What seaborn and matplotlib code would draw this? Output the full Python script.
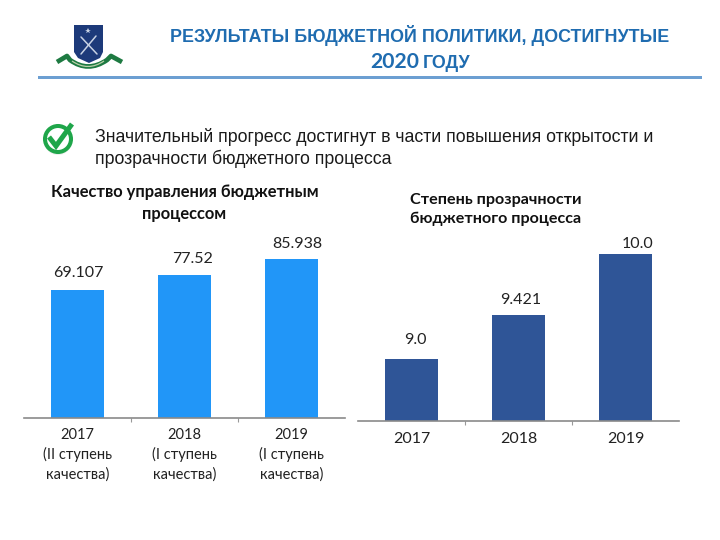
import matplotlib
matplotlib.use('Agg')
import matplotlib.pyplot as plt
import seaborn as sns
from matplotlib.patches import Circle, Rectangle, PathPatch
from matplotlib.path import Path

W, H = 720, 540

years = ['2017', '2018', '2019']
quality_labels = ['2017\n(II ступень\nкачества)', '2018\n(I ступень\nкачества)', '2019\n(I ступень\nкачества)']
quality_values = [69.107, 77.52, 85.938]
quality_text = ['69.107', '77.52', '85.938']
transparency_values = [9.0, 9.421, 10.0]
transparency_text = ['9.0', '9.421', '10.0']

title_line1 = 'РЕЗУЛЬТАТЫ БЮДЖЕТНОЙ ПОЛИТИКИ, ДОСТИГНУТЫЕ'
subtitle = 'Значительный прогресс достигнут в части повышения открытости и\nпрозрачности бюджетного процесса'
quality_title = 'Качество управления бюджетным\nпроцессом'
transparency_title = 'Степень прозрачности\nбюджетного процесса'

sns.set_theme(style='white')
plt.rcParams['font.family'] = ['Lato', 'Open Sans', 'DejaVu Sans']
plt.rcParams['savefig.dpi'] = 100


def px_axes(fig, left, top, right, bottom, **kw):
    # axes from pixel box, origin top left
    return fig.add_axes([left / W, 1 - bottom / H, (right - left) / W, (bottom - top) / H], **kw)


def style_bars(ax, labels, size, pad):
    ax.set_xlabel('')
    ax.set_ylabel('')
    ax.set_yticks([])
    ax.set_xlim(-0.5, 2.5)
    ax.set_xticks([0, 1, 2], labels)
    ax.set_xticks([0.5, 1.5], minor=True)
    ax.tick_params(axis='x', which='major', length=0, labelsize=size, labelcolor='#222222', pad=pad)
    ax.tick_params(axis='x', which='minor', length=3, width=0.8, color='#999999', bottom=True)
    for s in ['top', 'left', 'right']:
        ax.spines[s].set_visible(False)
    ax.spines['bottom'].set_color('#8a8a8a')
    ax.spines['bottom'].set_linewidth(1.2)
    ax.patch.set_alpha(0)


fig = plt.figure(figsize=(7.2, 5.4), dpi=100)

# left chart
ax1 = px_axes(fig, 24, 230, 345, 418)
sns.barplot(x=years, y=quality_values, color='#2196F8', saturation=1, width=0.5, linewidth=0, ax=ax1)
ax1.set_ylim(0, 188 / 1.85)
style_bars(ax1, quality_labels, 10.5, 7)
for lab in ax1.get_xticklabels():
    lab.set_linespacing(1.45)
quality_dx = [1, 8, 6]
quality_dy = [10, 9, 8]
for i, v in enumerate(quality_values):
    ax1.annotate(quality_text[i], (i, v), xytext=(quality_dx[i], quality_dy[i]), textcoords='offset pixels',
                 ha='center', va='bottom', fontsize=11.5, color='#222222')

# right chart
ax2 = px_axes(fig, 358, 230, 679, 421)
sns.barplot(x=years, y=transparency_values, color='#2F5597', saturation=1, width=0.5, linewidth=0, ax=ax2)
ax2.set_ylim(8.41, 8.41 + 191 / 105)
style_bars(ax2, years, 11.5, 8)
transparency_dx = [4, 2, 12]
transparency_dy = [12, 8, 3]
for i, v in enumerate(transparency_values):
    ax2.annotate(transparency_text[i], (i, v), xytext=(transparency_dx[i], transparency_dy[i]),
                 textcoords='offset pixels', ha='center', va='bottom', fontsize=11.5, color='#222222')

# overlay for header, in pixel coordinates
bg = fig.add_axes([0, 0, 1, 1], zorder=5)
bg.set_xlim(0, W)
bg.set_ylim(H, 0)
bg.axis('off')

bg.text(419.5, 35, title_line1, ha='center', va='center', fontsize=12.85, fontweight='bold',
        color='#1F6CB0', family=['Liberation Sans', 'DejaVu Sans'])
bg.text(419, 62, '2020', ha='right', va='center', fontsize=15.2, fontweight='bold', color='#1F6CB0',
        family=['Lato', 'DejaVu Sans'])
bg.text(423, 63, 'ГОДУ', ha='left', va='center', fontsize=12.85, fontweight='bold',
        color='#1F6CB0', family=['Liberation Sans', 'DejaVu Sans'])
bg.add_patch(Rectangle((38, 75.5), 664, 3, color='#6C9FD2', lw=0))

bg.text(95, 148, subtitle, ha='left', va='center', fontsize=12.75, color='#1a1a1a', linespacing=1.2,
        family=['Liberation Sans', 'DejaVu Sans'])

bg.text(184.5, 203, quality_title, ha='center', va='center', fontsize=11.9, fontweight='bold', color='#111111',
        linespacing=1.53, multialignment='center')
bg.text(410, 209.5, transparency_title, ha='left', va='center', fontsize=11.6, fontweight='bold', color='#111111',
        linespacing=1.49)

# check icon
bg.add_patch(Circle((58, 141), 14, fc='#dddddd', ec='none', alpha=0.5))
bg.add_patch(Circle((58, 139), 13, fc='white', ec='#1FA64A', lw=2.9))
bg.add_patch(PathPatch(Path([(49, 137), (56, 146), (72, 124)]), fc='none', ec='#1FA64A', lw=3.6, capstyle='butt'))

# emblem
bg.add_patch(PathPatch(Path([(74, 25), (103, 25), (103, 52), (100, 58), (89, 63), (78, 58), (74, 52), (74, 25)]),
                       fc='#1D3A7A', ec='none'))
ribbon = Path([(57, 62), (67, 56), (70, 60), (88, 73), (107, 60), (111, 56), (122, 62)],
              [Path.MOVETO, Path.LINETO, Path.LINETO, Path.CURVE3, Path.CURVE3, Path.LINETO, Path.LINETO])
bg.add_patch(PathPatch(ribbon, fc='none', ec='#1E7A42', lw=3.4, joinstyle='round'))
band = Path([(72, 61), (88, 72), (104, 61)], [Path.MOVETO, Path.CURVE3, Path.CURVE3])
bg.add_patch(PathPatch(band, fc='none', ec='#B9D0A8', lw=0.9))
# anchor
bg.plot([81, 97], [37, 54], color='#C8D2E4', lw=1.1)
bg.plot([96, 81], [36, 54], color='#C8D2E4', lw=1.1)
bg.plot([88], [31], marker='*', ms=4, color='#C8D2E4', mew=0)

fig.savefig('out.png', dpi=100)
